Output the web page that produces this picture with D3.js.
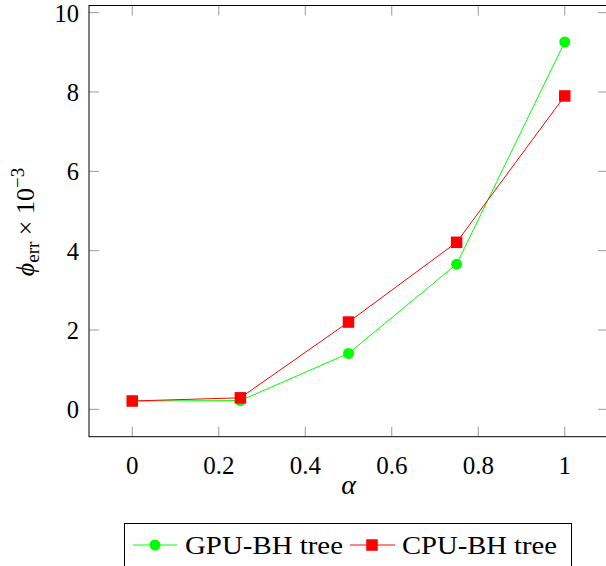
<!DOCTYPE html>
<html>
<head>
<meta charset="utf-8">
<script src="https://cdn.jsdelivr.net/npm/d3@7"></script>
<style>
  html, body { margin: 0; padding: 0; background: #fff; }
  svg text { font-family: "Liberation Serif", "DejaVu Serif", serif; fill: #000; }
</style>
</head>
<body>
<svg id="chart" width="606" height="566"></svg>
<script>
// Approximation parameter and error measurements
const alphas = [0, 0.25, 0.5, 0.75, 1];
const gpuErr = [0.21, 0.22, 1.41, 3.66, 9.26];
const cpuErr = [0.21, 0.29, 2.2, 4.21, 7.9];
const seriesNames = ["GPU-BH tree", "CPU-BH tree"];
const xTicks = [0, 0.2, 0.4, 0.6, 0.8, 1];
const yTicks = [0, 2, 4, 6, 8, 10];

const svg = d3.select("#chart");
const plotL = 89, plotT = 5.5, plotR = 608, plotB = 436.7;

const x = d3.scaleLinear().domain([-0.1, 1.1]).range([plotL, plotR]);
const y = d3.scaleLinear().domain([-0.69, 10.18]).range([plotB, plotT]);

const tickColor = "#808080";
const tickLen = 10;

// tick marks on all four sides, pointing inward
const g = svg.append("g");
xTicks.forEach(t => {
  g.append("line").attr("x1", x(t)).attr("x2", x(t)).attr("y1", plotB).attr("y2", plotB - tickLen)
    .attr("stroke", tickColor).attr("stroke-width", 0.8);
  g.append("line").attr("x1", x(t)).attr("x2", x(t)).attr("y1", plotT).attr("y2", plotT + tickLen)
    .attr("stroke", tickColor).attr("stroke-width", 0.8);
});
yTicks.forEach(t => {
  g.append("line").attr("x1", plotL).attr("x2", plotL + tickLen).attr("y1", y(t)).attr("y2", y(t))
    .attr("stroke", tickColor).attr("stroke-width", 0.8);
  g.append("line").attr("x1", plotR).attr("x2", plotR - tickLen).attr("y1", y(t)).attr("y2", y(t))
    .attr("stroke", tickColor).attr("stroke-width", 0.8);
});

// frame
svg.append("rect").attr("x", plotL).attr("y", plotT).attr("width", plotR - plotL).attr("height", plotB - plotT)
  .attr("fill", "none").attr("stroke", "#000").attr("stroke-width", 1);

// tick labels
svg.append("g").selectAll("text").data(xTicks).join("text")
  .attr("x", d => x(d)).attr("y", plotB + 37)
  .attr("text-anchor", "middle").attr("font-size", 25)
  .text(d => String(d));
svg.append("g").selectAll("text").data(yTicks).join("text")
  .attr("x", plotL - 10).attr("y", d => y(d) + 9)
  .attr("text-anchor", "end").attr("font-size", 24.5)
  .text(d => String(d));

// axis titles
svg.append("text").attr("x", (x(0) + x(1)) / 2).attr("y", 494)
  .attr("text-anchor", "middle").attr("font-size", 28).attr("font-style", "italic")
  .text("α");

const yl = svg.append("text")
  .attr("transform", "translate(34,222) rotate(-90)")
  .attr("text-anchor", "middle").attr("font-size", 26);
yl.append("tspan").attr("font-style", "italic").text("ϕ");
yl.append("tspan").attr("font-size", 19).attr("dy", 5).text("err");
yl.append("tspan").attr("dy", -5).text(" × 10");
yl.append("tspan").attr("font-size", 19).attr("dy", -10).text("−3");

// series
const line = d3.line().x(d => x(d[0])).y(d => y(d[1]));
const gpuPts = alphas.map((a, i) => [a, gpuErr[i]]);
const cpuPts = alphas.map((a, i) => [a, cpuErr[i]]);

svg.append("path").datum(gpuPts).attr("d", line)
  .attr("fill", "none").attr("stroke", "#00ff00").attr("stroke-width", 1);
svg.append("path").datum(cpuPts).attr("d", line)
  .attr("fill", "none").attr("stroke", "#ff0000").attr("stroke-width", 1);

svg.append("g").selectAll("circle").data(gpuPts).join("circle")
  .attr("cx", d => x(d[0])).attr("cy", d => y(d[1])).attr("r", 5.5)
  .attr("fill", "#00ff00");
const sq = 11.5;
svg.append("g").selectAll("rect").data(cpuPts).join("rect")
  .attr("x", d => x(d[0]) - sq / 2).attr("y", d => y(d[1]) - sq / 2)
  .attr("width", sq).attr("height", sq).attr("fill", "#ff0000");

// legend
const lg = svg.append("g");
lg.append("rect").attr("x", 124.5).attr("y", 523.5).attr("width", 447).attr("height", 60)
  .attr("fill", "#fff").attr("stroke", "#000").attr("stroke-width", 1);
const ly = 545;
lg.append("line").attr("x1", 133).attr("x2", 177).attr("y1", ly).attr("y2", ly)
  .attr("stroke", "#00ff00").attr("stroke-width", 1);
lg.append("circle").attr("cx", 155).attr("cy", ly).attr("r", 5.5).attr("fill", "#00ff00");
lg.append("text").attr("x", 185).attr("y", ly + 8.5).attr("font-size", 25)
  .attr("textLength", 158).attr("lengthAdjust", "spacingAndGlyphs").text(seriesNames[0]);
lg.append("line").attr("x1", 350).attr("x2", 395).attr("y1", ly).attr("y2", ly)
  .attr("stroke", "#ff0000").attr("stroke-width", 1);
lg.append("rect").attr("x", 372 - sq / 2).attr("y", ly - sq / 2).attr("width", sq).attr("height", sq)
  .attr("fill", "#ff0000");
lg.append("text").attr("x", 402).attr("y", ly + 8.5).attr("font-size", 25)
  .attr("textLength", 155).attr("lengthAdjust", "spacingAndGlyphs").text(seriesNames[1]);
</script>
</body>
</html>
